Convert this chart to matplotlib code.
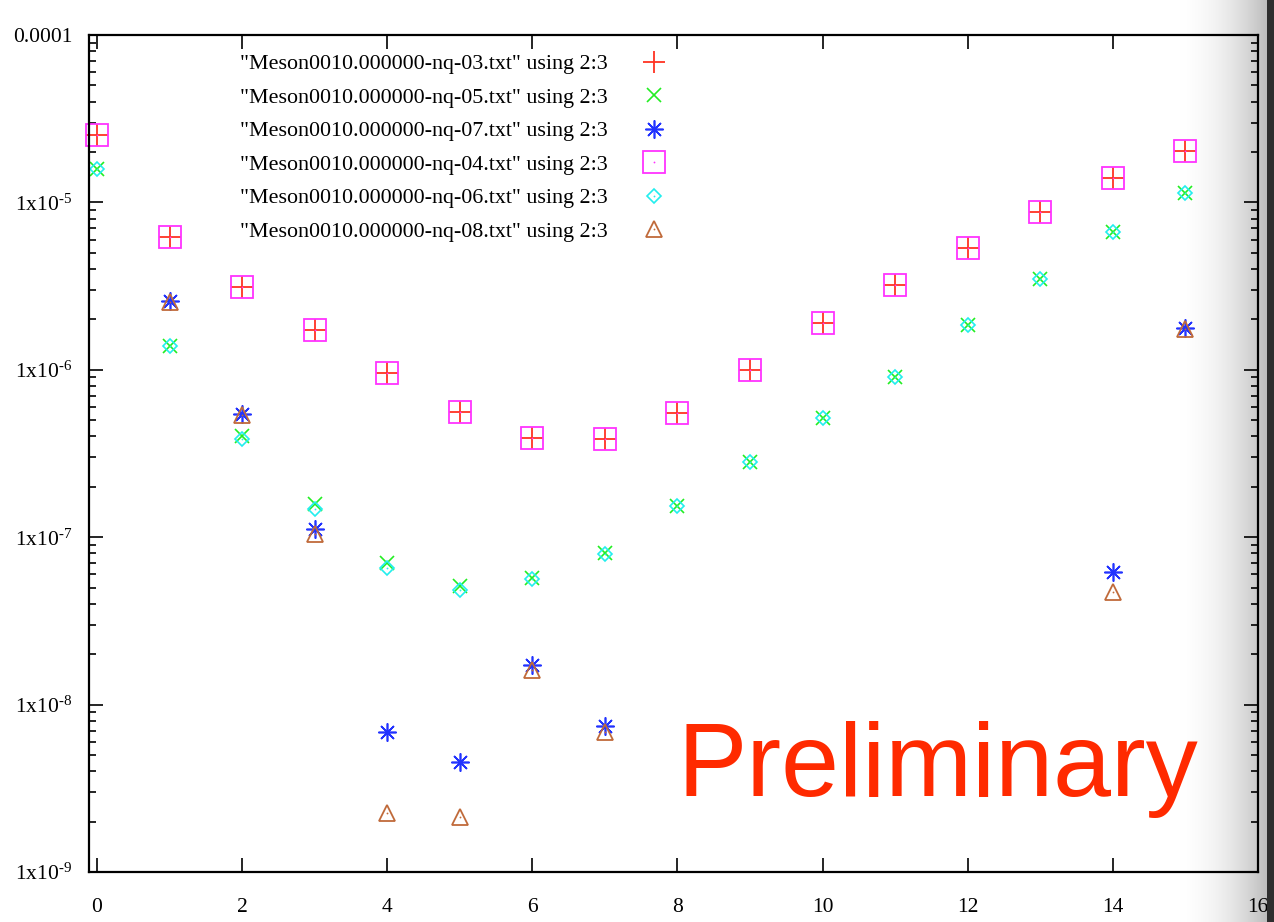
import numpy as np
import matplotlib.pyplot as plt
from matplotlib.legend_handler import HandlerTuple
from matplotlib.colors import LinearSegmentedColormap
from matplotlib.patches import Rectangle
from matplotlib.ticker import LogLocator, FixedLocator, NullFormatter

plt.rcParams["font.family"] = ["Liberation Serif", "DejaVu Serif"]
plt.rcParams["mathtext.fontset"] = "custom"
plt.rcParams["mathtext.rm"] = "Liberation Serif"
plt.rcParams["mathtext.default"] = "regular"

# -----------------------------
# DATA  (correlator vs time slice)
# -----------------------------
t = np.arange(16)
nan = np.nan

nq03 = [2.53e-5, 6.21e-6, 3.13e-6, 1.73e-6, 9.57e-7, 5.60e-7, 3.92e-7, 3.86e-7,
        5.52e-7, 9.97e-7, 1.91e-6, 3.21e-6, 5.35e-6, 8.77e-6, 1.40e-5, 2.03e-5]
nq04 = nq03
nq05 = [1.58e-5, 1.39e-6, 4.03e-7, 1.58e-7, 7.00e-8, 5.11e-8, 5.70e-8, 8.05e-8,
        1.53e-7, 2.81e-7, 5.15e-7, 9.06e-7, 1.85e-6, 3.48e-6, 6.65e-6, 1.14e-5]
nq06 = [1.58e-5, 1.39e-6, 3.86e-7, 1.47e-7, 6.54e-8, 4.84e-8, 5.65e-8, 7.95e-8,
        1.53e-7, 2.81e-7, 5.15e-7, 9.06e-7, 1.85e-6, 3.48e-6, 6.65e-6, 1.14e-5]
nq07 = [nan, 2.58e-6, 5.45e-7, 1.12e-7, 6.86e-9, 4.54e-9, 1.73e-8, 7.45e-9,
        nan, nan, nan, nan, nan, nan, 6.19e-8, 1.78e-6]
nq08 = [nan, 2.55e-6, 5.35e-7, 1.04e-7, 2.25e-9, 2.13e-9, 1.61e-8, 6.86e-9,
        nan, nan, nan, nan, nan, nan, 4.71e-8, 1.76e-6]

labels = ['"Meson0010.000000-nq-%s.txt" using 2:3' % n
          for n in ["03", "05", "07", "04", "06", "08"]]

# -----------------------------
# FIGURE
# -----------------------------
W, H = 1274, 922
fig = plt.figure(figsize=(W / 100, H / 100), dpi=100)

# grey shading along the right edge
grad_ax = fig.add_axes([1175 / W, 0, (1268 - 1175) / W, 1], zorder=0)
gx = np.linspace(0, 1, 200) ** 2.0
grad_ax.imshow(gx[None, :], aspect="auto", extent=[0, 1, 0, 1],
               cmap=LinearSegmentedColormap.from_list("edge", ["#ffffff", "#bcbcbc"]))
grad_ax.set_axis_off()

ax = fig.add_axes([89 / W, 50 / H, (1258 - 89) / W, (872 - 35) / H], zorder=1)
ax.set_facecolor("none")

styles = [
    (nq03, "+", "#ff3322", 16, 1.3),
    (nq05, "x", "#22ee22", 10.5, 1.2),
    (nq07, (8, 2, 0), "#2233ff", 13, 1.2),
    (nq04, "s", "#ff33ff", 16, 1.3),
    (nq06, "D", "#22eeee", 7.5, 1.2),
    (nq08, "^", "#c06a3a", 11, 1.3),
]

handles = []
for vals, mk, col, ms, mew in styles:
    h, = ax.plot(t, vals, ls="none", marker=mk, ms=ms, mew=mew,
                 mec=col, mfc="none", clip_on=False)
    if mk in ("s", "D", "^"):
        d, = ax.plot(t, vals, ls="none", marker="o", ms=1.3, mew=0,
                     mfc=col, clip_on=False)
        handles.append((h, d))
    else:
        handles.append(h)

ax.set_yscale("log")
ax.set_xlim(-0.11, 16)
ax.set_ylim(1e-9, 1e-4)

ax.xaxis.set_major_locator(FixedLocator(np.arange(0, 17, 2)))
ax.yaxis.set_minor_locator(LogLocator(base=10, subs=np.arange(2, 10), numticks=20))
ax.yaxis.set_minor_formatter(NullFormatter())

ylabels = {1e-4: "0.0001"}
for e in range(5, 10):
    ylabels[10.0 ** -e] = r"1x10$^{\text{-%d}}$" % e
ax.set_yticks(list(ylabels.keys()))
ax.set_yticklabels(list(ylabels.values()))

ax.tick_params(axis="both", which="major", direction="in", length=10, width=1.2,
               top=True, right=True, labelsize=15.5)
ax.tick_params(axis="both", which="minor", direction="in", length=5, width=1.2,
               top=True, right=True)
ax.tick_params(axis="x", pad=19)
ax.tick_params(axis="y", pad=12)
for s in ax.spines.values():
    s.set_linewidth(1.6)

leg = ax.legend(handles, labels, loc="upper left",
                bbox_to_anchor=(240 / W, (H - 54) / H),
                bbox_transform=fig.transFigure,
                markerfirst=False, frameon=False, fontsize=15.8,
                handlelength=2.0, handletextpad=1.1, labelspacing=0.6,
                borderpad=0, borderaxespad=0,
                handler_map={tuple: HandlerTuple(ndivide=1)})

fig.text(677 / W, (H - 796) / H, "Preliminary", color="#ff2a00",
         fontsize=75, family="Liberation Sans", ha="left", va="baseline")

# dark window border on the right
fig.patches.append(Rectangle((1267 / W, 0), 7 / W, 1, transform=fig.transFigure,
                             facecolor="#2e2e2e", edgecolor="none", zorder=10))

fig.savefig("out.png", dpi=100)
